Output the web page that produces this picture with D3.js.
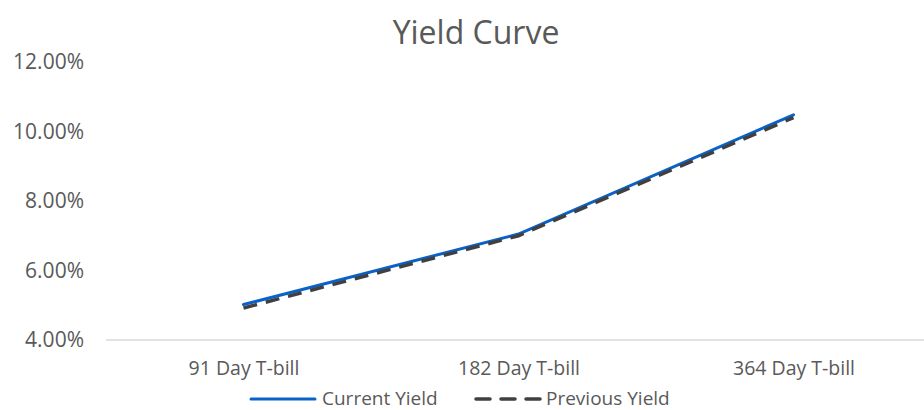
<!DOCTYPE html>
<html>
<head>
<meta charset="utf-8" />
<title>Yield Curve</title>
<script src="https://d3js.org/d3.v7.min.js"></script>
<style>
  body { margin: 0; background: #ffffff; }
  svg text { font-family: "Open Sans", "Noto Sans", sans-serif; fill: #595959; }
</style>
</head>
<body>
<svg id="chart"></svg>
<script>
// chart data
var categories = ["91 Day T-bill", "182 Day T-bill", "364 Day T-bill"];
var currentYield = [0.0502, 0.0705, 0.1048];
var previousYield = [0.0492, 0.0700, 0.1040];
var yTicks = [0.04, 0.06, 0.08, 0.10, 0.12];

var width = 924, height = 410;
var margin = { top: 62, right: -7, bottom: 70, left: 106 };

var svg = d3.select("#chart")
  .attr("width", width)
  .attr("height", height);

var x = d3.scalePoint()
  .domain(categories)
  .range([margin.left, width - margin.right])
  .padding(0.5);

var y = d3.scaleLinear()
  .domain([0.04, 0.12])
  .range([height - margin.bottom, margin.top]);

// title
svg.append("text")
  .attr("x", 476)
  .attr("y", 44)
  .attr("text-anchor", "middle")
  .attr("font-size", "32px")
  .text("Yield Curve");

// y axis (labels only)
var yAxis = d3.axisLeft(y)
  .tickValues(yTicks)
  .tickFormat(d3.format(".2%"))
  .tickSize(0)
  .tickPadding(0);

var gy = svg.append("g")
  .attr("transform", "translate(84,0)")
  .call(yAxis);
gy.select(".domain").remove();
gy.selectAll("text")
  .attr("font-size", "21px")
  .attr("font-family", "'Open Sans', sans-serif")
  .attr("fill", "#595959");

// x axis
var xAxis = d3.axisBottom(x).tickSize(0).tickPadding(21);
var gx = svg.append("g")
  .attr("transform", "translate(0," + y(0.04) + ")")
  .call(xAxis);
gx.select(".domain").remove();
gx.selectAll("text")
  .attr("font-size", "19.5px")
  .attr("font-family", "'Open Sans', sans-serif")
  .attr("fill", "#595959");
gx.append("line")
  .attr("x1", margin.left)
  .attr("x2", width)
  .attr("y1", 0)
  .attr("y2", 0)
  .attr("stroke", "#d9d9d9")
  .attr("stroke-width", 1.5);

var line = d3.line()
  .x(function(d, i) { return x(categories[i]); })
  .y(function(d) { return y(d); });

svg.append("path")
  .datum(currentYield)
  .attr("fill", "none")
  .attr("stroke", "#0a62c9")
  .attr("stroke-width", 3)
  .attr("stroke-linecap", "round")
  .attr("d", line);

svg.append("path")
  .datum(previousYield)
  .attr("fill", "none")
  .attr("stroke", "#404040")
  .attr("stroke-width", 3.5)
  .attr("stroke-dasharray", "14,9")
  .attr("d", line);

// legend
var legend = svg.append("g").attr("transform", "translate(0,399)");
legend.append("line")
  .attr("x1", 251).attr("x2", 315).attr("y1", 0).attr("y2", 0)
  .attr("stroke", "#0a62c9").attr("stroke-width", 3).attr("stroke-linecap", "round");
legend.append("text")
  .attr("x", 322).attr("y", 6)
  .attr("font-size", "19px")
  .text("Current Yield");
legend.append("line")
  .attr("x1", 476).attr("x2", 540).attr("y1", 0).attr("y2", 0)
  .attr("stroke", "#404040").attr("stroke-width", 3.5)
  .attr("stroke-dasharray", "14,11").attr("stroke-linecap", "round");
legend.append("text")
  .attr("x", 546).attr("y", 6)
  .attr("font-size", "19px")
  .text("Previous Yield");
</script>
</body>
</html>
